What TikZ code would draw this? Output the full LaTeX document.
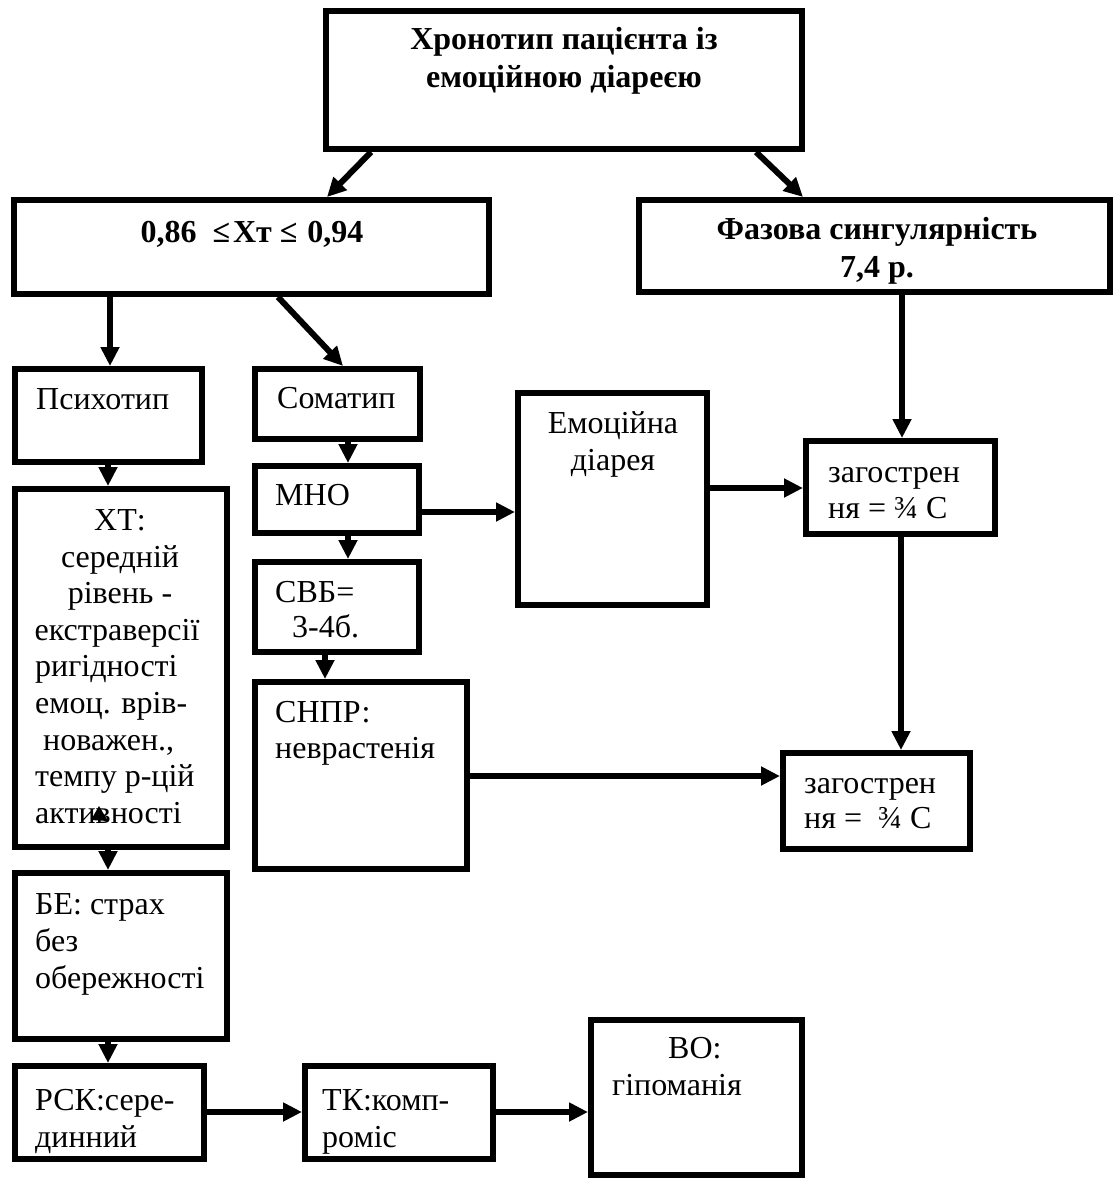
\documentclass[tikz,border=0pt]{standalone}
\usepackage{fontspec}
\setmainfont{Liberation Serif}
\usetikzlibrary{arrows.meta}
\newcommand\bx[5]{\node[box, minimum width={#4-#2-6}, minimum height={#5-#3-6}] (#1) at ({(#2+#4)/2},{(#3+#5)/2}) {};}
\newcommand\tw[3]{\node[txt, anchor=base west] (#1) at (#2) {#3};}
\newcommand\tc[3]{\node[txt, anchor=base] (#1) at (#2) {#3};}
\newcommand\tb[3]{\node[btxt, anchor=base] (#1) at (#2) {#3};}
\begin{document}
\begin{tikzpicture}[x=1pt,y=-1pt,
  box/.style={draw, line width=6pt, inner sep=0pt},
  arr/.style={line width=6pt, -{Triangle[length=19pt,width=18pt]}},
  txt/.style={inner sep=0pt, font=\fontsize{32}{37}\selectfont},
  btxt/.style={inner sep=0pt, font=\fontsize{32}{37}\selectfont\bfseries}]
\useasboundingbox (0,0) rectangle (1113,1182);
\fill[white] (0,0) rectangle (1113,1182);

% boxes (outer edges)
\bx{top}{323}{8}{805}{152}
\bx{xt}{11}{197}{492}{297}
\bx{faz}{636}{197}{1113}{295}
\bx{psy}{12}{366}{205}{465}
\bx{som}{252}{366}{423}{442}
\bx{mno}{252}{463}{422}{536}
\bx{svb}{252}{559}{422}{655}
\bx{snpr}{252}{679}{470}{872}
\bx{emo}{515}{390}{710}{608}
\bx{za}{803}{438}{998}{537}
\bx{zb}{780}{750}{973}{852}
\bx{hx}{12}{486}{230}{850}
\bx{be}{12}{870}{230}{1042}
\bx{rsk}{12}{1063}{207}{1162}
\bx{tk}{302}{1063}{496}{1162}
\bx{vo}{588}{1017}{805}{1178}

% texts
\tb{topA}{564,50}{Хронотип пацієнта із}
\tb{topB}{564,88}{емоційною діареєю}
\tb{xtT}{252,243}{0,86\hspace{16pt}≤\hspace{3pt}Хт ≤\hspace{10pt}0,94}
\tb{fazA}{877,240}{Фазова сингулярність}
\tb{fazB}{877,277}{7,4 р.}
\tw{psyT}{36,409}{Психотип}
\tw{somT}{277,408}{Соматип}
\tw{mnoT}{275,505}{МНО}
\tw{svbA}{275,602}{СВБ=}
\tw{svbB}{292,637}{3-4б.}
\tw{snprA}{275,722}{СНПР:}
\tw{snprB}{275,758}{неврастенія}
\tc{emoA}{613,433}{Емоційна}
\tc{emoB}{613,470}{діарея}
\tw{zaA}{828,482}{загострен}
\tw{zaB}{828,518}{ня = ¾ С}
\tw{zbA}{804,793}{загострен}
\tw{zbB}{804,828}{ня = \ ¾ С}
\tc{hxA}{120,530}{ХТ:}
\tc{hxB}{120,567}{середній}
\tc{hxC}{120,603}{рівень -}
\tc{hxD}{117,640}{екстраверсії}
\tw{hxE}{35,676}{ригідності}
\tw{hxF}{35,713}{емоц. врів-}
\tw{hxG}{43,750}{новажен.,}
\tw{hxH}{35,786}{темпу р-цій}
\tw{hxI}{35,823}{активності}
\tw{beA}{35,914}{БЕ: страх}
\tw{beB}{35,951}{без}
\tw{beC}{35,988}{обережності}
\tw{rskA}{35,1110}{РСК:сере-}
\tw{rskB}{35,1147}{динний}
\tw{tkA}{322,1110}{ТК:комп-}
\tw{tkB}{322,1147}{роміс}
\tw{voA}{668,1058}{ВО:}
\tw{voB}{612,1095}{гіпоманія}

% stray arrowhead inside the text
\fill (91,820) -- (99,806) -- (108,821) -- cycle;

% connectors
\draw[arr] (top.south -| 371,0) -- (xt.north -| 327,0);
\draw[arr] (top.south -| 756,0) -- (faz.north -| 803,0);
\draw[arr] (xt.south -| 110,0) -- (psy.north -| 110,0);
\draw[arr] (xt.south -| 278,0) -- (som.north -| 343,0);
\draw[arr] (faz.south -| 902,0) -- (za.north -| 902,0);
\draw[arr] (psy.south -| 108,0) -- (hx.north -| 108,0);
\draw[arr] (som.south -| 348,0) -- (mno.north -| 348,0);
\draw[arr] (mno.east |- 0,512) -- (emo.west |- 0,512);
\draw[arr] (mno.south -| 348,0) -- (svb.north -| 348,0);
\draw[arr] (svb.south -| 325,0) -- (snpr.north -| 325,0);
\draw[arr] (emo.east |- 0,488) -- (za.west |- 0,488);
\draw[arr] (za.south -| 901,0) -- (zb.north -| 901,0);
\draw[arr] (snpr.east |- 0,776) -- (zb.west |- 0,776);
\draw[arr] (hx.south -| 108,0) -- (be.north -| 108,0);
\draw[arr] (be.south -| 108,0) -- (rsk.north -| 108,0);
\draw[arr] (rsk.east |- 0,1112) -- (tk.west |- 0,1112);
\draw[arr] (tk.east |- 0,1112) -- (vo.west |- 0,1112);
\end{tikzpicture}
\end{document}
